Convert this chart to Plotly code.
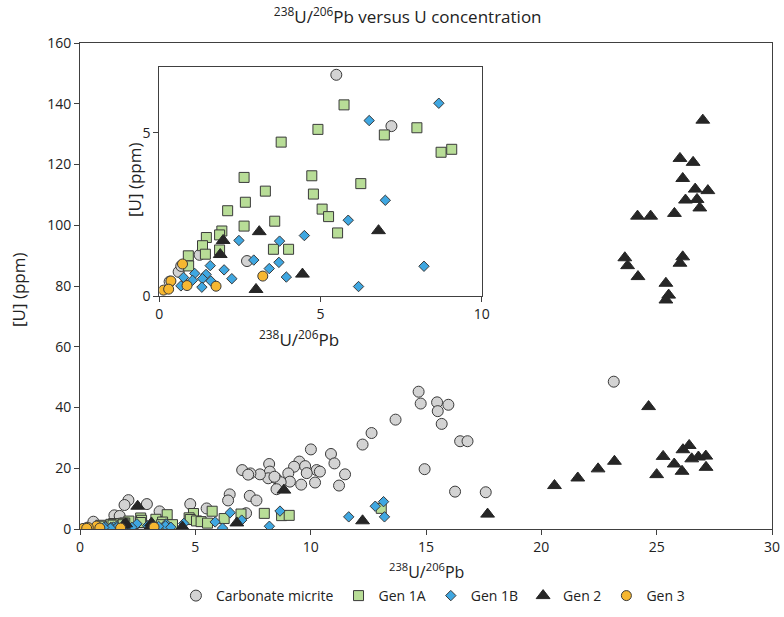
import plotly.graph_objects as go

# ---------------- data ----------------
# points shown in both main plot and inset (low range)
micrite_x = [5.49, 7.20, 2.72, 1.25, 0.60, 0.68, 0.32]
micrite_y = [6.77, 5.20, 1.07, 1.26, 0.74, 0.92, 0.44]
# micrite points drawn only in main plot
micrite_main_x = [23.14, 14.68, 14.77, 15.48, 15.97, 15.51, 15.68, 13.68, 12.64, 12.25, 16.48, 16.80,
                  14.94, 16.26, 17.59, 10.01, 10.88, 11.03, 11.49, 11.23, 9.51, 9.28, 9.76, 10.26,
                  10.40, 10.19, 9.83, 9.59, 9.03, 9.10, 8.20, 8.23, 8.16, 8.50, 7.80, 7.39, 7.03,
                  7.29, 8.70, 8.52, 6.49, 6.42, 7.36, 7.65, 8.43, 2.10, 1.93, 2.90, 3.45, 4.78, 1.49,
                  1.72, 0.58]
micrite_main_y = [48.5, 45.2, 41.3, 41.7, 40.9, 38.8, 34.6, 36.0, 31.6, 27.8, 28.9, 28.9,
                  19.7, 12.3, 12.1, 26.2, 24.7, 21.6, 18.0, 14.3, 22.2, 20.5, 20.7, 19.4,
                  18.9, 15.3, 18.4, 14.6, 18.3, 15.6, 21.4, 18.9, 16.7, 16.7, 18.0, 18.3, 19.4,
                  17.9, 15.4, 13.1, 11.4, 9.4, 10.9, 9.4, 17.2, 9.5, 7.9, 8.2, 5.8, 8.2, 4.5,
                  4.3, 2.4]

gen1a_x = [5.73, 4.92, 3.78, 7.99, 6.98, 8.74, 9.07, 2.63, 4.73, 3.29, 4.78, 6.25, 2.67, 2.12, 5.05,
           5.25, 2.63, 3.58, 5.53, 1.94, 1.87, 1.46, 1.34, 1.43, 1.87, 3.54, 4.01, 0.90, 0.91, 13.06]
gen1a_y = [5.85, 5.10, 4.71, 5.15, 4.93, 4.40, 4.49, 3.63, 3.68, 3.21, 3.12, 3.44, 2.87, 2.61, 2.66,
           2.43, 2.14, 2.29, 1.93, 1.99, 1.87, 1.79, 1.54, 1.28, 1.41, 1.43, 1.43, 1.23, 0.92, 6.8]

gen1b_x = [8.67, 6.51, 7.01, 5.86, 4.50, 3.73, 2.47, 2.93, 3.71, 3.41, 3.94, 8.21, 6.18, 1.58, 2.01,
           2.25, 1.10, 1.45, 1.34, 1.60, 1.32, 1.03, 0.67, 0.75, 11.65, 12.80, 13.16, 13.20]
gen1b_y = [5.90, 5.37, 2.93, 2.32, 1.85, 1.68, 1.70, 1.10, 1.03, 0.84, 0.58, 0.91, 0.29, 0.93, 0.80,
           0.53, 0.69, 0.66, 0.53, 0.46, 0.27, 0.48, 0.31, 0.57, 4.0, 7.5, 9.0, 4.0]

gen2_x = [3.10, 6.80, 1.98, 1.89, 4.44, 3.00, 2.50, 8.84, 12.25, 17.67,
          20.57, 21.58, 22.46, 23.17, 25.28, 25.00, 25.76, 26.10, 26.14, 26.41, 26.52, 26.81,
          27.13, 27.14, 24.65,
          27.00, 26.01, 26.58, 26.13, 26.67, 27.22, 26.75, 26.25, 26.87, 24.17, 24.74, 25.77,
          23.62, 23.74, 24.19, 26.13, 26.01, 25.40, 25.52, 25.40]
gen2_y = [1.97, 2.00, 1.70, 1.27, 0.67, 0.20, 7.5, 12.8, 2.7, 4.9,
          14.3, 16.8, 19.8, 22.3, 23.9, 17.9, 21.4, 19.0, 26.1, 27.5, 23.1, 23.7,
          24.0, 20.3, 40.3,
          134.6, 122.0, 120.7, 115.4, 111.9, 111.4, 108.5, 108.3, 105.7, 103.0, 103.0, 103.9,
          89.3, 86.7, 83.1, 89.6, 87.5, 80.9, 77.0, 75.4]

gen3_x = [0.72, 0.36, 0.13, 0.29, 0.86, 1.76, 3.21]
gen3_y = [0.98, 0.46, 0.18, 0.21, 0.32, 0.30, 0.61]

# ---------------- styles ----------------
FONT = "Open Sans"
EDGE = "#3a3a3a"
styles = {
    "Carbonate micrite": dict(symbol="circle", size=11, color="#d3d3d3", line=dict(color=EDGE, width=1)),
    "Gen 1A": dict(symbol="square", size=10, color="#b8dd97", line=dict(color=EDGE, width=1)),
    "Gen 1B": dict(symbol="diamond", size=8, color="#3fa7e1", line=dict(color=EDGE, width=1)),
    "Gen 2": dict(symbol="triangle-up", size=12, color="#262626", line=dict(color="#262626", width=1)),
    "Gen 3": dict(symbol="circle", size=10, color="#f6b731", line=dict(color=EDGE, width=1)),
}

series_main = [
    ("Carbonate micrite", micrite_x + micrite_main_x, micrite_y + micrite_main_y),
    ("Gen 1A", gen1a_x, gen1a_y),
    ("Gen 1B", gen1b_x, gen1b_y),
    ("Gen 2", gen2_x, gen2_y),
    ("Gen 3", gen3_x, gen3_y),
]
series_inset = [
    ("Carbonate micrite", micrite_x, micrite_y),
    ("Gen 1A", gen1a_x, gen1a_y),
    ("Gen 1B", gen1b_x, gen1b_y),
    ("Gen 2", gen2_x, gen2_y),
    ("Gen 3", gen3_x, gen3_y),
]

fig = go.Figure()
for name, xs, ys in series_main:
    fig.add_trace(go.Scatter(x=xs, y=ys, mode="markers", name=name, marker=styles[name],
                             xaxis="x", yaxis="y", cliponaxis=True))
for name, xs, ys in series_inset:
    fig.add_trace(go.Scatter(x=xs, y=ys, mode="markers", name=name, marker=styles[name],
                             xaxis="x2", yaxis="y2", showlegend=False, cliponaxis=True))

axis_common = dict(showgrid=False, zeroline=False, showline=True, linecolor="#404040", linewidth=1,
                   mirror=True, ticks="outside", ticklen=5, tickcolor="#404040", automargin=False,
                   tickfont=dict(family=FONT, size=14, color="#222"))

sup_label = "<sup>238</sup>U/<sup>206</sup>Pb"
title_font = dict(family=FONT, size=17, color="#222")

fig.update_layout(
    width=784, height=617,
    margin=dict(l=80, r=12, t=43, b=88, autoexpand=False),
    paper_bgcolor="white", plot_bgcolor="white",
    font=dict(family=FONT, color="#222"),
    title=dict(text=sup_label + " versus U concentration", x=0.52, xanchor="center",
               y=0.972, yanchor="middle", font=title_font),
    xaxis=dict(range=[0, 30], dtick=5, domain=[0, 1], **axis_common),
    yaxis=dict(range=[0, 160], dtick=20, domain=[0, 1], **axis_common),
    xaxis2=dict(range=[0, 10], dtick=5, domain=[0.1146, 0.5805], anchor="y2", **axis_common),
    yaxis2=dict(range=[0, 7], dtick=5, domain=[0.4794, 0.950], anchor="x2", **axis_common),
    legend=dict(orientation="h", x=0.51, xanchor="center", y=(617 - 596) / 617, yanchor="middle",
                yref="container",
                font=dict(family=FONT, size=14, color="#222"), itemwidth=30, tracegroupgap=0),
    annotations=[
        # main axis titles
        dict(text=sup_label, xref="paper", yref="paper", x=0.5, y=(529 - 571) / 486,
             showarrow=False, xanchor="center", yanchor="middle",
             font=dict(family=FONT, size=16, color="#222")),
        dict(text="[U] (ppm)", xref="paper", yref="paper", x=(18 - 80) / 692, y=(529 - 290) / 486,
             showarrow=False, xanchor="center", yanchor="middle", textangle=-90, font=title_font),
        # inset axis titles
        dict(text=sup_label, xref="paper", yref="paper", x=(299 - 80) / 692, y=(529 - 338) / 486,
             showarrow=False, xanchor="center", yanchor="middle", font=title_font),
        dict(text="[U] (ppm)", xref="paper", yref="paper", x=(134 - 80) / 692, y=(529 - 180) / 486,
             showarrow=False, xanchor="center", yanchor="middle", textangle=-90, font=title_font),
    ],
)

fig.write_html("out.html")
